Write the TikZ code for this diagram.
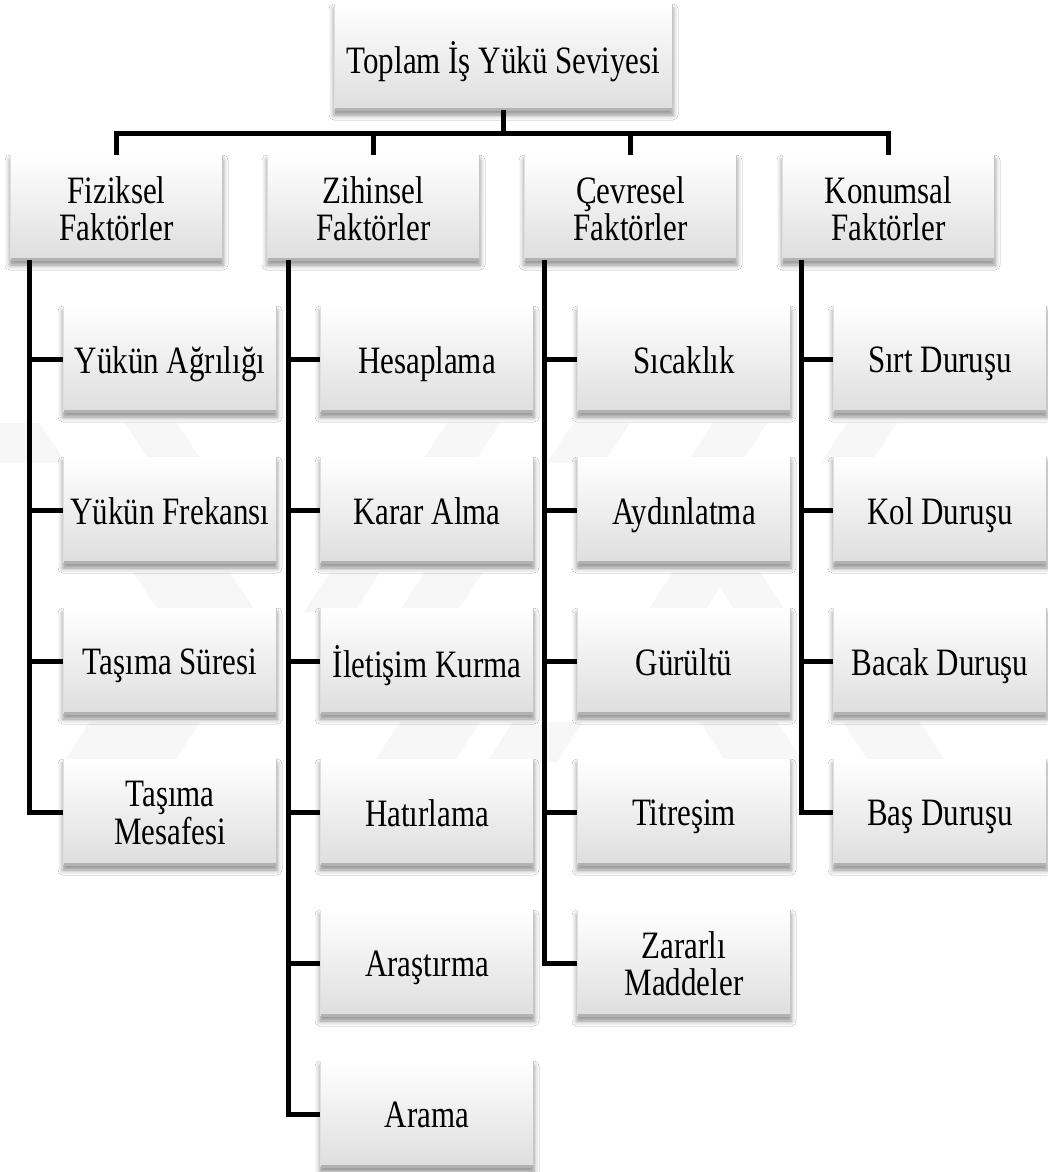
\documentclass[tikz,border=0pt]{standalone}
\usepackage{fontspec}
\usepackage{graphicx}
\setmainfont{Liberation Serif}
\usetikzlibrary{shadows.blur,positioning}

% tall label, one or two lines
\newcommand{\lbl}[1]{\raisebox{-6pt}[\height][\depth]{\scalebox{1}[1.25]{\begin{tabular}{@{}c@{}}#1\end{tabular}}}}

\tikzset{
  box/.style={rectangle, inner sep=0pt, align=center,
    font=\fontsize{31}{28}\selectfont,
    top color=white, bottom color=gray!26,
    blur shadow={shadow xshift=0pt, shadow yshift=-5pt,
      shadow blur radius=5pt, shadow opacity=45},
    path picture={
      \draw[gray!60, line width=4pt] (path picture bounding box.south west) -- (path picture bounding box.south east);
      \draw[gray!45, line width=3pt] (path picture bounding box.south east) -- (path picture bounding box.north east);
      \draw[gray!25, line width=2pt] (path picture bounding box.south west) -- (path picture bounding box.north west);
    }},
  rootbox/.style={box, minimum width=339pt, minimum height=106pt},
  groupbox/.style={box, minimum width=213pt, minimum height=105pt},
  leafbox/.style={box, minimum width=214pt, minimum height=106pt},
  conn/.style={line width=5pt, black},
  wmark/.style={fill=gray!6, draw=none}
}

\begin{document}
\begin{tikzpicture}[x=1pt, y=-1pt]

    % Page
    \fill[white] (0,0) rectangle (1047,1172);
    \useasboundingbox (0,0) rectangle (1047,1172);

    % Faint watermark stripes
    \foreach \xa/\xb/\yt/\d in {-30/40/423/1, 125/177/423/1, 447/500/423/-1,
        573/630/423/-1, 713/767/423/-1, 847/897/423/-1,
        133/230/572/1, 330/380/572/-1, 425/483/572/-1, 673/730/572/-1, 710/760/572/1,
        90/200/722/-1, 400/480/722/-1, 513/583/722/-1, 700/777/722/1, 843/920/722/1}
        \fill[wmark] (\xa,\yt) -- (\xb,\yt) -- ++(\d*26,40) -- ++(\xa-\xb,0) -- cycle;

    % Root
    \node[rootbox] (root) at (503.5,57) {\lbl{Toplam İş Yükü Seviyesi}};

    % Factor groups
    \node[groupbox] (fiz) at (116.5,207.5) {\lbl{Fiziksel\\Faktörler}};
    \node[groupbox] (zih) at (373.5,207.5) {\lbl{Zihinsel\\Faktörler}};
    \node[groupbox] (cev) at (630.5,207.5) {\lbl{Çevresel\\Faktörler}};
    \node[groupbox] (kon) at (888.5,207.5) {\lbl{Konumsal\\Faktörler}};

    % Physical
    \node[leafbox] (f1) at (170,359) {\lbl{Yükün Ağrılığı}};
    \node[leafbox] (f2) at (170,510) {\lbl{Yükün Frekansı}};
    \node[leafbox] (f3) at (170,661) {\lbl{Taşıma Süresi}};
    \node[leafbox] (f4) at (170,812) {\lbl{Taşıma\\Mesafesi}};

    % Mental
    \node[leafbox] (z1) at (427,359) {\lbl{Hesaplama}};
    \node[leafbox] (z2) at (427,510) {\lbl{Karar Alma}};
    \node[leafbox] (z3) at (427,661) {\lbl{İletişim Kurma}};
    \node[leafbox] (z4) at (427,812) {\lbl{Hatırlama}};
    \node[leafbox] (z5) at (427,963) {\lbl{Araştırma}};
    \node[leafbox] (z6) at (427,1114) {\lbl{Arama}};

    % Environmental
    \node[leafbox] (c1) at (684,359) {\lbl{Sıcaklık}};
    \node[leafbox] (c2) at (684,510) {\lbl{Aydınlatma}};
    \node[leafbox] (c3) at (684,661) {\lbl{Gürültü}};
    \node[leafbox] (c4) at (684,812) {\lbl{Titreşim}};
    \node[leafbox] (c5) at (684,963) {\lbl{Zararlı\\Maddeler}};

    % Postural
    \node[leafbox] (k1) at (940,359) {\lbl{Sırt Duruşu}};
    \node[leafbox] (k2) at (940,510) {\lbl{Kol Duruşu}};
    \node[leafbox] (k3) at (940,661) {\lbl{Bacak Duruşu}};
    \node[leafbox] (k4) at (940,812) {\lbl{Baş Duruşu}};

    % Bus from root to groups
    \coordinate (bus) at ([yshift=-23pt]root.south);
    \draw[conn] (root.south) -- (bus);
    \foreach \g in {fiz, zih, cev, kon}
        \draw[conn] (bus) -| (\g.north);

    % Spines
    \coordinate (fizsp) at ([xshift=20pt]fiz.south west);
    \coordinate (zihsp) at ([xshift=22pt]zih.south west);
    \coordinate (cevsp) at ([xshift=21pt]cev.south west);
    \coordinate (konsp) at ([xshift=20pt]kon.south west);

    \draw[conn] (fizsp) |- (f4.west);
    \draw[conn] (zihsp) |- (z6.west);
    \draw[conn] (cevsp) |- (c5.west);
    \draw[conn] (konsp) |- (k4.west);

    % Stubs
    \foreach \n in {f1, f2, f3}
        \draw[conn] (\n.west -| fizsp) -- (\n.west);
    \foreach \n in {z1, z2, z3, z4, z5}
        \draw[conn] (\n.west -| zihsp) -- (\n.west);
    \foreach \n in {c1, c2, c3, c4}
        \draw[conn] (\n.west -| cevsp) -- (\n.west);
    \foreach \n in {k1, k2, k3}
        \draw[conn] (\n.west -| konsp) -- (\n.west);

\end{tikzpicture}
\end{document}
